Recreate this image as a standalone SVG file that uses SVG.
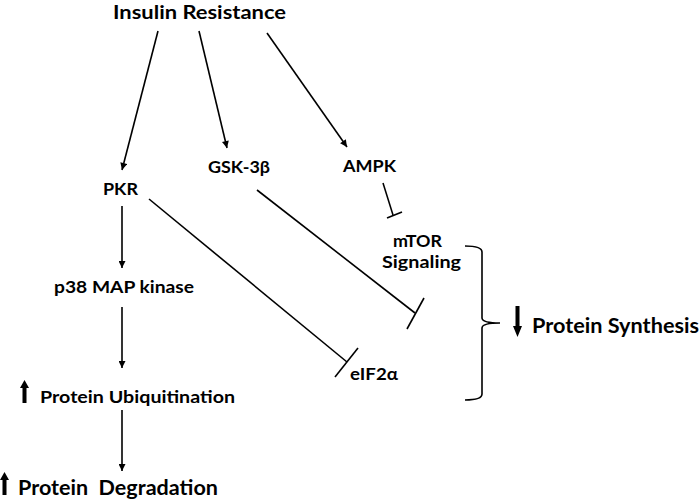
<svg xmlns="http://www.w3.org/2000/svg" width="700" height="500" viewBox="0 0 700 500">
<defs>
<marker id="ah" viewBox="0 0 10 10" refX="10" refY="5" markerWidth="8" markerHeight="7" markerUnits="userSpaceOnUse" orient="auto"><path d="M0,0 L10,5 L0,10 z" fill="#000"/></marker>
<style>
.t{font-family:Lato,"Open Sans","Liberation Sans",sans-serif;font-weight:bold;fill:#000;white-space:pre}
.c{stroke:#000;stroke-width:1.6;fill:none}
.a{marker-end:url(#ah)}
.big{font-size:20px}
.mid{font-size:17.5px}
</style>
</defs>
<rect width="700" height="500" fill="#fff"/>
<g id="connectors">
<line class="c a" x1="158" y1="31" x2="122" y2="170"/>
<line class="c a" x1="199" y1="31" x2="227" y2="148"/>
<line class="c a" x1="267" y1="33" x2="347" y2="147"/>
<line class="c a" x1="122" y1="206" x2="122" y2="268"/>
<line class="c a" x1="122" y1="307" x2="122" y2="368"/>
<line class="c a" x1="122" y1="410" x2="122" y2="471"/>
<line class="c" x1="149" y1="199" x2="347" y2="362"/>
<line class="c" x1="335" y1="377" x2="358" y2="348"/>
<line class="c" x1="257" y1="190" x2="415" y2="313"/>
<line class="c" x1="407" y1="329" x2="424" y2="298"/>
<line class="c" x1="383" y1="183" x2="393" y2="215"/>
<line class="c" x1="387" y1="218" x2="402" y2="212"/>
<path class="c" d="M465,246 Q482,246 482,252 L482,318 Q482,323 500,323 Q482,323 482,328 L482,394 Q482,400 465,400"/>
</g>
<g id="insulin"><text class="t" style="font-size:18.5px" x="113" y="19" textLength="173" lengthAdjust="spacingAndGlyphs">Insulin Resistance</text></g>
<g id="pkr"><text class="t mid" x="103" y="195" textLength="35" lengthAdjust="spacingAndGlyphs">PKR</text></g>
<g id="gsk"><text class="t mid" x="208" y="173" textLength="62" lengthAdjust="spacingAndGlyphs">GSK-3β</text></g>
<g id="ampk"><text class="t mid" x="343" y="172" textLength="53" lengthAdjust="spacingAndGlyphs">AMPK</text></g>
<g id="p38"><text class="t mid" x="54" y="293" textLength="140" lengthAdjust="spacingAndGlyphs">p38 MAP kinase</text></g>
<g id="ubiq"><path d="M22.5,403 L22.5,388 L20,388 L24.5,380 L29,388 L26.5,388 L26.5,403 z" fill="#000"/><text class="t mid" x="40" y="403" textLength="195" lengthAdjust="spacingAndGlyphs">Protein Ubiquitination</text></g>
<g id="degr"><path d="M2.5,495 L2.5,480 L0,480 L4.5,472 L9,480 L6.5,480 L6.5,495 z" fill="#000"/><text class="t big" x="18" y="495" textLength="200" lengthAdjust="spacingAndGlyphs">Protein  Degradation</text></g>
<g id="mtor"><text class="t mid" x="393" y="247" textLength="49" lengthAdjust="spacingAndGlyphs">mTOR</text><text class="t mid" x="382" y="268" textLength="79" lengthAdjust="spacingAndGlyphs">Signaling</text></g>
<g id="eif"><text class="t mid" x="350" y="380" textLength="48" lengthAdjust="spacingAndGlyphs">eIF2α</text></g>
<g id="synth"><path d="M515.5,306 L515.5,326 L513,326 L517.5,337 L522,326 L519.5,326 L519.5,306 z" fill="#000"/><text class="t" style="font-size:20px" x="532" y="333" textLength="167" lengthAdjust="spacingAndGlyphs">Protein Synthesis</text></g>
</svg>
